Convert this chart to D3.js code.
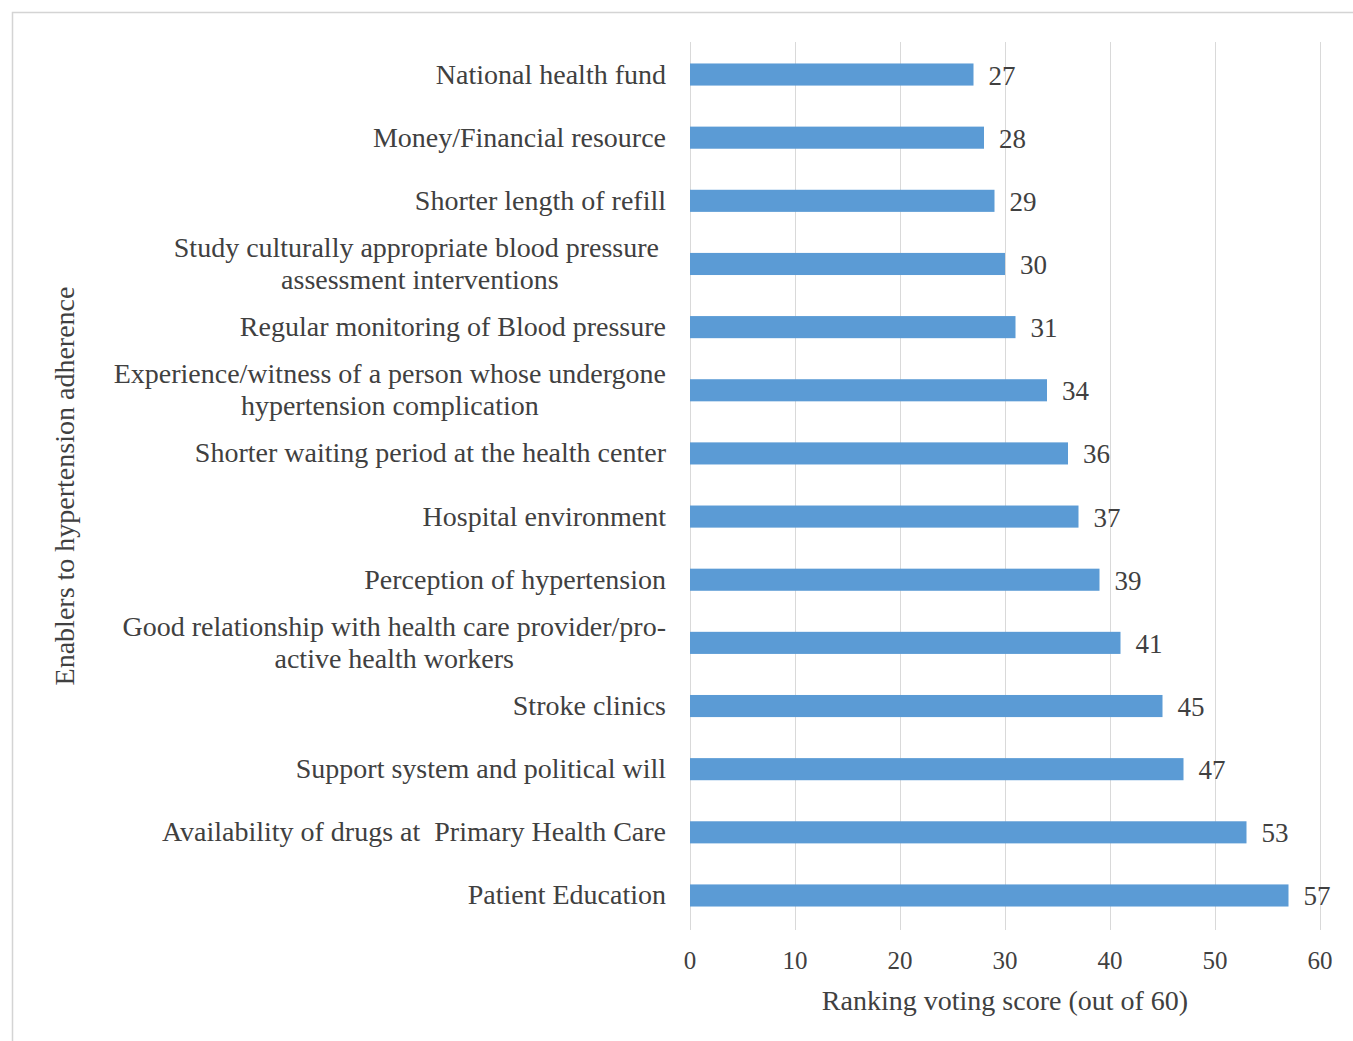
<!DOCTYPE html>
<html>
<head>
<meta charset="utf-8">
<script src="https://cdn.jsdelivr.net/npm/d3@7"></script>
<style>
  body { margin: 0; background: #fff; }
</style>
</head>
<body>
<div id="chart"></div>
<script>
// categories top to bottom, labels split in lines
var categories = [
  ["National health fund"],
  ["Money/Financial resource"],
  ["Shorter length of refill"],
  ["Study culturally appropriate blood pressure ", "assessment interventions"],
  ["Regular monitoring of Blood pressure"],
  ["Experience/witness of a person whose undergone", "hypertension complication"],
  ["Shorter waiting period at the health center"],
  ["Hospital environment"],
  ["Perception of hypertension"],
  ["Good relationship with health care provider/pro-", "active health workers"],
  ["Stroke clinics"],
  ["Support system and political will"],
  ["Availability of drugs at  Primary Health Care"],
  ["Patient Education"]
];
var scores = [27, 28, 29, 30, 31, 34, 36, 37, 39, 41, 45, 47, 53, 57];
var xTicks = [0, 10, 20, 30, 40, 50, 60];

var WIDTH = 1353, HEIGHT = 1041;
var mLeft = 690, mRight = 1320, mTop = 42, mBottom = 930;

var svg = d3.select("#chart").append("svg")
  .attr("width", WIDTH)
  .attr("height", HEIGHT)
  .attr("font-family", "'Liberation Serif', 'DejaVu Serif', serif")
  .attr("fill", "#404040");

// outer frame
svg.append("path")
  .attr("d", "M12.5," + HEIGHT + "V12.5H" + WIDTH)
  .attr("fill", "none")
  .attr("stroke", "#d4d4d4")
  .attr("stroke-width", 1.5);

var x = d3.scaleLinear().domain([0, 60]).range([mLeft, mRight]);
var y = d3.scaleBand()
  .domain(d3.range(categories.length))
  .range([mTop, mBottom - 2])
  .paddingInner(0.65)
  .paddingOuter(0.34);

// grid
svg.append("g").selectAll("line")
  .data(xTicks)
  .enter().append("line")
  .attr("x1", function(d) { return x(d) + 0.5; })
  .attr("x2", function(d) { return x(d) + 0.5; })
  .attr("y1", mTop)
  .attr("y2", mBottom)
  .attr("stroke", "#d9d9d9")
  .attr("stroke-width", 1);

// bars
svg.append("g").selectAll("rect")
  .data(scores)
  .enter().append("rect")
  .attr("x", x(0))
  .attr("y", function(d, i) { return y(i); })
  .attr("width", function(d) { return x(d) - x(0); })
  .attr("height", y.bandwidth())
  .attr("fill", "#5b9bd5");

// value labels
svg.append("g").selectAll("text")
  .data(scores)
  .enter().append("text")
  .attr("x", function(d) { return x(d) + 15; })
  .attr("y", function(d, i) { return y(i) + y.bandwidth() / 2 + 10; })
  .attr("font-size", 27)
  .text(function(d) { return d; });

// category labels
var lab = svg.append("g").selectAll("text")
  .data(categories)
  .enter().append("text")
  .attr("text-anchor", "middle")
  .attr("font-size", 28)
  .style("white-space", "pre")
  .attr("y", function(d, i) { return y(i) + y.bandwidth() / 2 + 9 - (d.length - 1) * 16; });

lab.each(function(d) {
  var t = d3.select(this);
  d.forEach(function(line, k) {
    t.append("tspan")
      .attr("x", 0)
      .attr("dy", k === 0 ? 0 : 32)
      .text(line);
  });
  // right align the widest line at x=666, center the others on it
  var w = d3.max(t.selectAll("tspan").nodes(), function(n) { return n.getComputedTextLength(); });
  t.selectAll("tspan").attr("x", 666 - w / 2);
});

// x axis tick labels
svg.append("g").selectAll("text")
  .data(xTicks)
  .enter().append("text")
  .attr("x", function(d) { return x(d); })
  .attr("y", 969)
  .attr("text-anchor", "middle")
  .attr("font-size", 25)
  .text(function(d) { return d; });

svg.append("text")
  .attr("x", (x(0) + x(60)) / 2)
  .attr("y", 1010)
  .attr("text-anchor", "middle")
  .attr("font-size", 28)
  .text("Ranking voting score (out of 60)");

svg.append("text")
  .attr("transform", "translate(74," + (mTop + mBottom) / 2 + ")rotate(-90)")
  .attr("text-anchor", "middle")
  .attr("font-size", 28)
  .text("Enablers to hypertension adherence");
</script>
</body>
</html>
